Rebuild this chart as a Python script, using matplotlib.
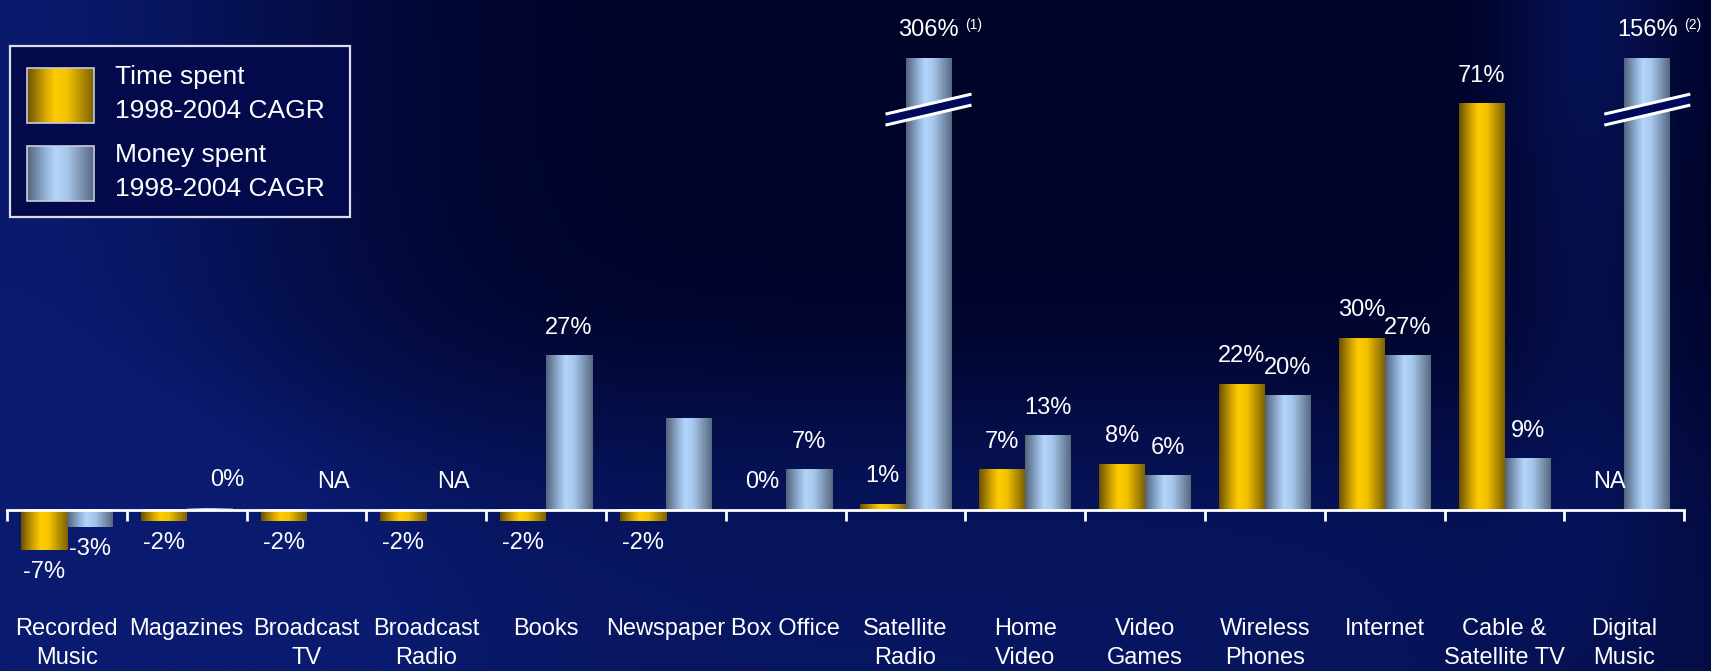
import numpy as np
import matplotlib.pyplot as plt
from matplotlib.colors import LinearSegmentedColormap, to_rgb
from matplotlib.patches import Rectangle, Polygon

plt.rcParams['font.family'] = ['Liberation Sans', 'DejaVu Sans']

categories = ["Recorded\nMusic", "Magazines", "Broadcast\nTV", "Broadcast\nRadio", "Books",
              "Newspaper", "Box Office", "Satellite\nRadio", "Home\nVideo", "Video\nGames",
              "Wireless\nPhones", "Internet", "Cable &\nSatellite TV", "Digital\nMusic"]
# CAGR 1998-2004 in %, None = not available
time_cagr = [-7, -2, -2, -2, -2, -2, 0, 1, 7, 8, 22, 30, 71, None]
money_cagr = [-3, 0.3, None, None, 27, 16, 7, 306, 13, 6, 20, 27, 9, 156]
money_labelled = [True, True, True, True, True, False, True, True, True, True, True, True, True, True]
footnotes = {7: "(1)", 13: "(2)"}
legend_labels = ["Time spent\n1998-2004 CAGR", "Money spent\n1998-2004 CAGR"]

BREAK_TOP = 79      # bars taller than this get cut
BREAK_Y = 70        # where the break mark sits
W, H = 1711, 671

gold = LinearSegmentedColormap.from_list(
    "gold", [(0, "#6a5100"), (0.28, "#d8a800"), (0.42, "#ffcc00"), (0.6, "#f4c300"), (1, "#7d6100")])
steel = LinearSegmentedColormap.from_list(
    "steel", [(0, "#53637a"), (0.28, "#94b4d8"), (0.42, "#b4d6fa"), (0.6, "#a6c6ec"), (1, "#56687f")])
ramp = np.linspace(0, 1, 256).reshape(1, -1)

fig = plt.figure(figsize=(W / 100, H / 100), dpi=100)

# background gradient + legend, in pixel coordinates
bg = fig.add_axes([0, 0, 1, 1], zorder=0)
bg.axis("off")
u, v = np.meshgrid(np.linspace(0, 1, 400), np.linspace(0, 1, 160))
glow = (0.95 * np.exp(-(u / 0.2) ** 2)
        + 0.8 / (1 + np.exp(-(v - 0.62) / 0.08)) * np.exp(-((u - 0.5) / 0.55) ** 4)
        + 0.6 * np.exp(-((u - 0.93) / 0.05) ** 2) * np.clip(1.1 - v, 0, 1))
glow = np.clip(glow, 0, 1)[..., None]
dark = np.array(to_rgb("#000328"))
light = np.array(to_rgb("#0a1b70"))
bg.imshow(dark + glow * (light - dark), extent=[0, W, H, 0], aspect="auto",
          interpolation="bicubic", zorder=0)

bg.add_patch(Rectangle((10, 46), 340, 171, fill=True, fc="#020a4c", ec="#dcdcec", lw=1.6, zorder=1))
for k, cmap in enumerate([gold, steel]):
    y0 = 68 + k * 78
    bg.imshow(cmap(ramp), extent=[27, 94, y0 + 55, y0], aspect="auto", zorder=2)
    bg.add_patch(Rectangle((27, y0), 67, 55, fill=False, ec="#c8cce0", lw=1.2, zorder=3))
    bg.text(115, y0 + 50, legend_labels[k], color="white", fontsize=19, va="baseline",
            linespacing=1.52, zorder=3)
bg.set_xlim(0, W)
bg.set_ylim(H, 0)

# main chart
ax = fig.add_axes([0, 0, 1, 1], zorder=1)
ax.patch.set_alpha(0)
px_x, px_y = 119.8, 5.72
x0_px, base_px = 7, 510
xlim = (-x0_px / px_x, (W - x0_px) / px_x)
ylim = (-(H - base_px) / px_y, base_px / px_y)

n = len(categories)
centers = np.arange(n) + 0.5
bw = 46 / px_x


def draw_bars(xs, vals, cmap):
    idx = [i for i, val in enumerate(vals) if val is not None]
    heights = [min(vals[i], BREAK_TOP) for i in idx]
    bars = ax.bar(xs[idx], heights, width=bw, fc="none", ec="none")
    for rect in bars:
        x, y, w, h = rect.get_x(), rect.get_y(), rect.get_width(), rect.get_height()
        ax.imshow(cmap(ramp), extent=[x, x + w, y, y + h], aspect="auto", zorder=2)
    return idx, heights


def label(x, top, text, dx=0):
    off = 28 if top >= 0 else -22
    ax.annotate(text, (x, top), xytext=(dx, off), textcoords="offset pixels",
                ha="center", va="center", color="white", fontsize=17)


xt = centers - bw / 2
xm = centers + bw / 2
idx_t, h_t = draw_bars(xt, time_cagr, gold)
idx_m, h_m = draw_bars(xm, money_cagr, steel)

for i, val in enumerate(time_cagr):
    if val is None:
        label(xt[i], 0, "NA", dx=8)
    else:
        label(xt[i], min(val, BREAK_TOP), f"{val:.0f}%")

for i, val in enumerate(money_cagr):
    if val is None:
        label(xm[i], 0, "NA", dx=4)
        continue
    top = min(val, BREAK_TOP)
    if money_labelled[i]:
        label(xm[i], top, f"{val:.0f}%", dx=18 if abs(val) < 1 else 0)
    if i in footnotes:
        ax.annotate(footnotes[i], (xm[i], top), xytext=(37, 33), textcoords="offset pixels",
                    ha="left", va="center", color="white", fontsize=10)
    if val > BREAK_TOP:
        # slanted break mark across the bar
        half = bw / 2 + 20 / px_x
        rise = 10 / px_y
        gap = 5.5 / px_y
        xs = [xm[i] - half, xm[i] + half]
        ys = [BREAK_Y - rise, BREAK_Y + rise]
        ax.add_patch(Polygon([(xs[0], ys[0] - gap), (xs[1], ys[1] - gap),
                              (xs[1], ys[1] + gap), (xs[0], ys[0] + gap)],
                             closed=True, fc="#000a5c", ec="none", zorder=3))
        for s in (-gap, gap):
            ax.plot(xs, [ys[0] + s, ys[1] + s], color="white", lw=2.2, zorder=4,
                    solid_capstyle="butt")

for i, name in enumerate(categories):
    ax.text(centers[i], -18.9, name, ha="center", va="top", color="white",
            fontsize=17, linespacing=1.38)

ax.set_xlim(*xlim)
ax.set_ylim(*ylim)
for side in ["top", "left", "right"]:
    ax.spines[side].set_visible(False)
ax.spines["bottom"].set_position(("data", 0))
ax.spines["bottom"].set_color("white")
ax.spines["bottom"].set_linewidth(2)
ax.spines["bottom"].set_bounds(0, n)
ax.spines["bottom"].set_zorder(5)
ax.set_xticks(np.arange(n + 1))
ax.set_xticklabels([])
ax.tick_params(axis="x", direction="out", length=8, width=2, color="white")
ax.set_yticks([])

fig.savefig("out.png", dpi=100)
